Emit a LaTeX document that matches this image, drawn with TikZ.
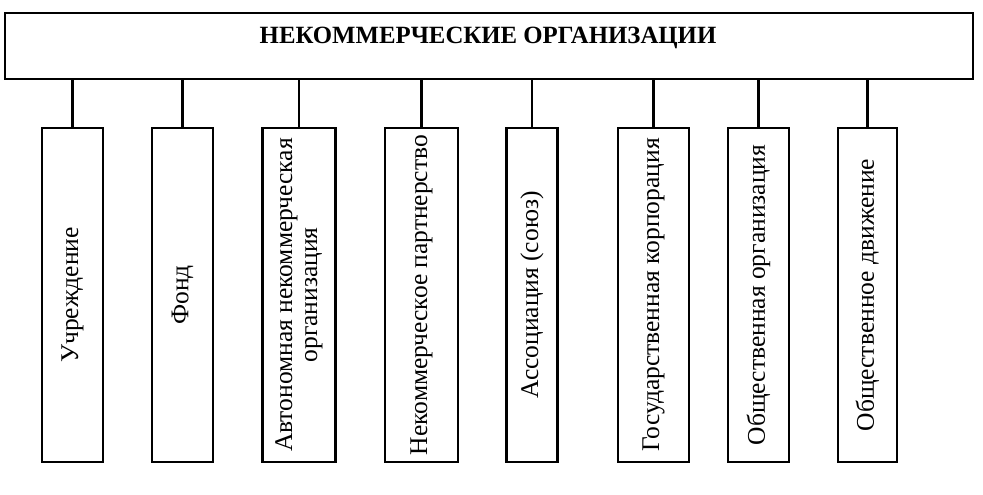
\documentclass[tikz,border=0pt]{standalone}
\usepackage{fontspec}
\setmainfont{Liberation Serif}
\begin{document}
\begin{tikzpicture}[x=1pt,y=-1pt,line width=2.4pt,
    orgbox/.style={draw, minimum height=334pt, inner sep=0pt, outer sep=0pt},
    orgtext/.style={rotate=90, align=center, font=\fontsize{25.5}{25}\selectfont}]
            \useasboundingbox (0,0) rectangle (983,495);
            \node[draw, minimum width=968pt, minimum height=66pt, inner sep=0pt, outer sep=0pt] (top) at (489,46) {};
            \node[font=\fontsize{24.8}{24}\selectfont\bfseries] (title) at (488,38) {НЕКОММЕРЧЕСКИЕ ОРГАНИЗАЦИИ};

            \node[orgbox, minimum width=61pt] (b1) at (72.5,295) {};
            \node[orgbox, minimum width=61pt] (b2) at (182.5,295) {};
            \node[orgbox, minimum width=73pt] (b3) at (299,295) {};
            \node[orgbox, minimum width=73pt] (b4) at (421.5,295) {};
            \node[orgbox, minimum width=51pt] (b5) at (532,295) {};
            \node[orgbox, minimum width=71pt] (b6) at (653.5,295) {};
            \node[orgbox, minimum width=61pt] (b7) at (758.5,295) {};
            \node[orgbox, minimum width=59pt] (b8) at (867.5,295) {};

            \node[orgtext] at (b1) {Учреждение};
            \node[orgtext] at (b2) {Фонд};
            \node[orgtext] at (b3) {Автономная некоммерческая\\организация};
            \node[orgtext] at (b4) {Некоммерческое партнерство};
            \node[orgtext] at (b5) {Ассоциация (союз)};
            \node[orgtext] at (b6) {Государственная корпорация};
            \node[orgtext] at (b7) {Общественная организация};
            \node[orgtext] at (b8) {Общественное движение};

            \foreach \b in {b1,b2,b3,b4,b5,b6,b7,b8}
                \draw (top.south -| \b.north) -- (\b.north);
          \end{tikzpicture}
\end{document}
